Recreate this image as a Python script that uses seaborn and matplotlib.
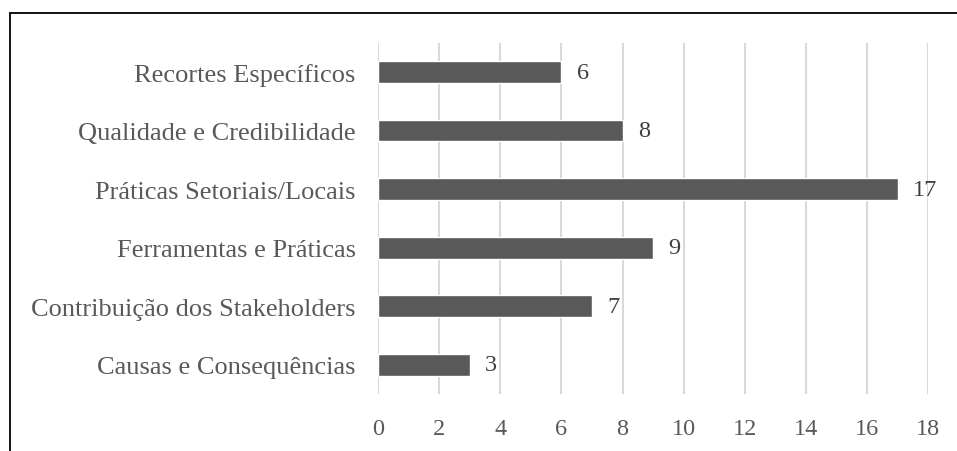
import matplotlib
matplotlib.use("Agg")
import matplotlib.pyplot as plt
from matplotlib.lines import Line2D
import seaborn as sns
import pandas as pd

categories = [
    "Recortes Específicos",
    "Qualidade e Credibilidade",
    "Práticas Setoriais/Locais",
    "Ferramentas e Práticas",
    "Contribuição dos Stakeholders",
    "Causas e Consequências",
]
counts = [6, 8, 17, 9, 7, 3]
x_ticks = [0, 2, 4, 6, 8, 10, 12, 14, 16, 18]

df = pd.DataFrame({"categoria": categories, "n": counts})

sns.set_theme(style="white")
plt.rcParams["font.family"] = ["Liberation Serif", "DejaVu Serif"]

text_color = "#595959"
bar_color = "#595959"
grid_color = "#d9d9d9"

fig = plt.figure(figsize=(9.57, 4.52), dpi=100)
ax = fig.add_axes([0.395, 0.126, 0.575, 0.777])

sns.barplot(data=df, y="categoria", x="n", orient="h", color=bar_color,
            width=0.37, saturation=1, ax=ax, zorder=3)

ax.set_xlim(0, 18)
ax.set_ylim(5.5, -0.5)
ax.set_xticks(x_ticks)
ax.set_xticklabels([str(t) for t in x_ticks])
ax.set_xlabel("")
ax.set_ylabel("")

ax.grid(axis="x", color=grid_color, linewidth=1.5, zorder=0)
ax.grid(axis="y", visible=False)
for side in ["top", "right", "bottom", "left"]:
    ax.spines[side].set_visible(False)

ax.tick_params(axis="x", length=0, pad=17, labelsize=17.5, labelcolor=text_color)
ax.tick_params(axis="y", length=0, pad=16, labelsize=19, labelcolor=text_color)

for i, v in enumerate(counts):
    ax.text(v + 0.5, i, str(v), va="center", ha="left", fontsize=17.5,
            color="#404040", zorder=4)

# outer frame (top and left edges)
fig.add_artist(Line2D([0.0105, 1.0], [0.969, 0.969], transform=fig.transFigure,
                      color="black", linewidth=1.3))
fig.add_artist(Line2D([0.0105, 0.0105], [0.0, 0.969], transform=fig.transFigure,
                      color="black", linewidth=1.3))

fig.savefig("out.png", dpi=100)
